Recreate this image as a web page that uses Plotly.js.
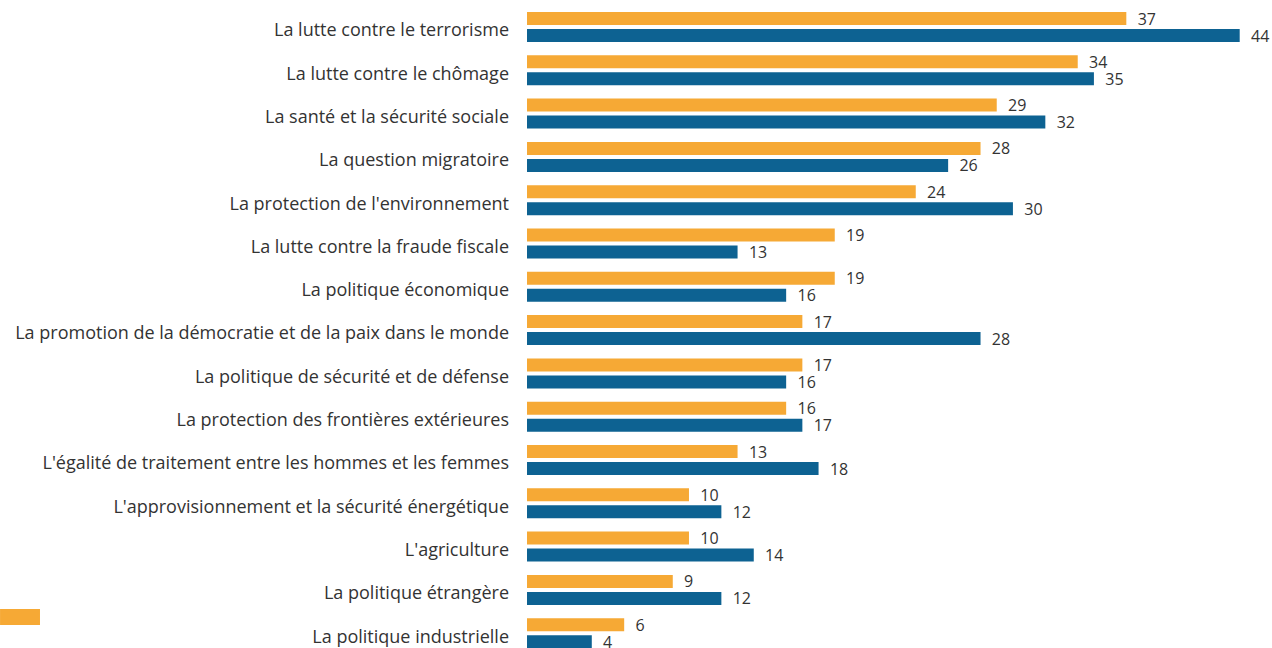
<!DOCTYPE html>
<html>
<head>
<meta charset="utf-8">
<script src="https://cdn.plot.ly/plotly-3.0.1.min.js"></script>
<style>
  html, body { margin: 0; padding: 0; background: #fff; }
  #chart { width: 1272px; height: 648px; }
</style>
</head>
<body>
<div id="chart"></div>
<script>
const categories = [
    "La lutte contre le terrorisme",
    "La lutte contre le chômage",
    "La santé et la sécurité sociale",
    "La question migratoire",
    "La protection de l'environnement",
    "La lutte contre la fraude fiscale",
    "La politique économique",
    "La promotion de la démocratie et de la paix dans le monde",
    "La politique de sécurité et de défense",
    "La protection des frontières extérieures",
    "L'égalité de traitement entre les hommes et les femmes",
    "L'approvisionnement et la sécurité énergétique",
    "L'agriculture",
    "La politique étrangère",
    "La politique industrielle"
];
const orangeValues = [37, 34, 29, 28, 24, 19, 19, 17, 17, 16, 13, 10, 10, 9, 6];
const blueValues = [44, 35, 32, 26, 30, 13, 16, 28, 16, 17, 18, 12, 14, 12, 4];

const FONT = "'Open Sans', 'Noto Sans', sans-serif";
const TEXT_COLOR = '#333333';

function barTrace(name, values, color) {
    return {
        type: 'bar',
        orientation: 'h',
        name: name,
        y: categories,
        x: values,
        marker: {color: color},
        text: values.map(v => '\u00a0\u00a0' + v),
        textposition: 'outside',
        constraintext: 'none',
        cliponaxis: false,
        textfont: {family: FONT, size: 16, color: TEXT_COLOR},
        hoverinfo: 'y+x'
    }
}

const data = [
    barTrace('Série A', orangeValues, '#F6A935'),
    barTrace('Série B', blueValues, '#0D6292')
];

const layout = {
    width: 1272,
    height: 648,
    margin: {l: 527, r: 8, t: 0, b: 0},
    paper_bgcolor: '#ffffff',
    plot_bgcolor: '#ffffff',
    barmode: 'group',
    bargap: 0.215,
    bargroupgap: 0.235,
    showlegend: false,
    font: {family: FONT, color: TEXT_COLOR},
    xaxis: {
        range: [0, 45.5],
        visible: false,
        fixedrange: true
    },
    yaxis: {
        type: 'category',
        range: [14.342, -0.624],
        showgrid: false,
        zeroline: false,
        showline: false,
        ticks: '',
        ticklabelstandoff: 17,
        ticklabelshift: -3,
        tickfont: {family: FONT, size: 18, color: TEXT_COLOR},
        fixedrange: true
    },
    shapes: [
        {
            type: 'rect',
            xref: 'paper', yref: 'paper',
            x0: -0.715, x1: -0.6608,
            y0: 0.0355, y1: 0.0602,
            fillcolor: '#F6A935',
            line: {width: 0}
        }
    ]
};

Plotly.newPlot('chart', data, layout, {displayModeBar: false, staticPlot: true});
</script>
</body>
</html>
